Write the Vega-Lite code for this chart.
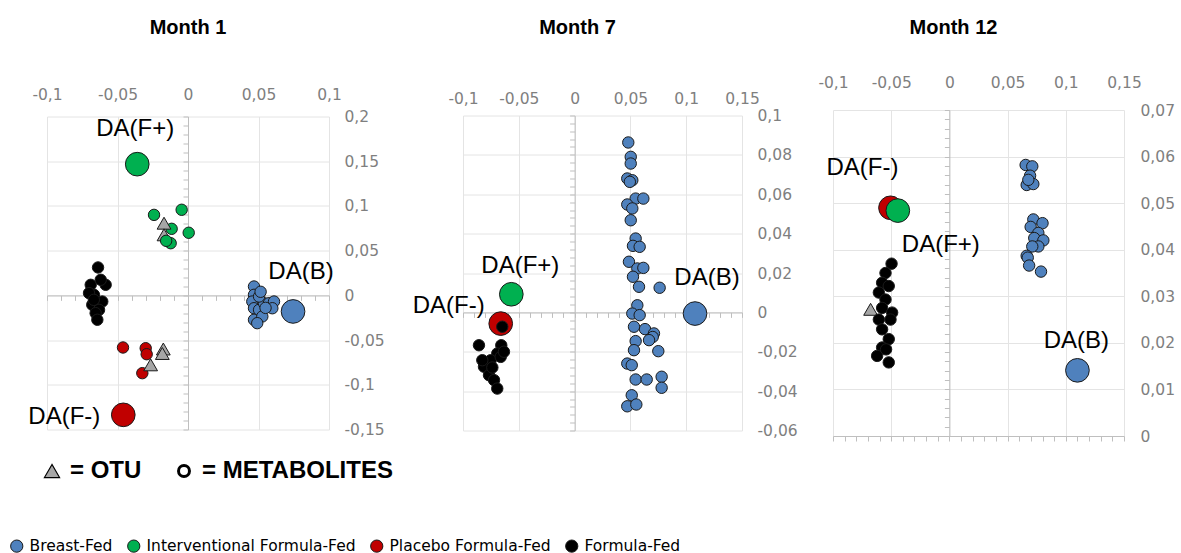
{
  "$schema": "https://vega.github.io/schema/vega-lite/v6.json",
  "background": "white",
  "padding": {"left": 9, "top": 17, "right": 5, "bottom": 0},
  "config": {"view": {"stroke": null}},
  "data": {"values": [
    {"m":1,"g":"Interventional Formula-Fed","t":"Metabolite","x":-0.0241,"y":0.0900},
    {"m":1,"g":"Interventional Formula-Fed","t":"Metabolite","x":-0.0045,"y":0.0957},
    {"m":1,"g":"Interventional Formula-Fed","t":"Metabolite","x":-0.0116,"y":0.0744},
    {"m":1,"g":"Interventional Formula-Fed","t":"Metabolite","x":0.0005,"y":0.0700},
    {"m":1,"g":"Interventional Formula-Fed","t":"OTU","x":-0.0170,"y":0.0807},
    {"m":1,"g":"Interventional Formula-Fed","t":"OTU","x":-0.0170,"y":0.0677},
    {"m":1,"g":"Interventional Formula-Fed","t":"Metabolite","x":-0.0123,"y":0.0583},
    {"m":1,"g":"Interventional Formula-Fed","t":"Metabolite","x":-0.0155,"y":0.0610},
    {"m":1,"g":"Formula-Fed","t":"Metabolite","x":-0.0638,"y":0.0312},
    {"m":1,"g":"Formula-Fed","t":"Metabolite","x":-0.0584,"y":0.0118},
    {"m":1,"g":"Formula-Fed","t":"Metabolite","x":-0.0690,"y":0.0118},
    {"m":1,"g":"Formula-Fed","t":"Metabolite","x":-0.0619,"y":0.0174},
    {"m":1,"g":"Formula-Fed","t":"Metabolite","x":-0.0667,"y":0.0006},
    {"m":1,"g":"Formula-Fed","t":"Metabolite","x":-0.0702,"y":0.0025},
    {"m":1,"g":"Formula-Fed","t":"Metabolite","x":-0.0608,"y":-0.0069},
    {"m":1,"g":"Formula-Fed","t":"Metabolite","x":-0.0679,"y":-0.0106},
    {"m":1,"g":"Formula-Fed","t":"Metabolite","x":-0.0631,"y":-0.0162},
    {"m":1,"g":"Formula-Fed","t":"Metabolite","x":-0.0655,"y":-0.0199},
    {"m":1,"g":"Formula-Fed","t":"Metabolite","x":-0.0643,"y":-0.0273},
    {"m":1,"g":"Formula-Fed","t":"Metabolite","x":-0.0668,"y":-0.0050},
    {"m":1,"g":"Placebo Formula-Fed","t":"Metabolite","x":-0.0461,"y":-0.0583},
    {"m":1,"g":"Placebo Formula-Fed","t":"Metabolite","x":-0.0300,"y":-0.0591},
    {"m":1,"g":"Placebo Formula-Fed","t":"Metabolite","x":-0.0293,"y":-0.0658},
    {"m":1,"g":"Placebo Formula-Fed","t":"Metabolite","x":-0.0324,"y":-0.0870},
    {"m":1,"g":"Placebo Formula-Fed","t":"OTU","x":-0.0175,"y":-0.0600},
    {"m":1,"g":"Placebo Formula-Fed","t":"OTU","x":-0.0182,"y":-0.0650},
    {"m":1,"g":"Placebo Formula-Fed","t":"OTU","x":-0.0265,"y":-0.0777},
    {"m":1,"g":"Breast-Fed","t":"Metabolite","x":0.0468,"y":0.0099},
    {"m":1,"g":"Breast-Fed","t":"Metabolite","x":0.0468,"y":0.0006},
    {"m":1,"g":"Breast-Fed","t":"Metabolite","x":0.0456,"y":-0.0069},
    {"m":1,"g":"Breast-Fed","t":"Metabolite","x":0.0468,"y":-0.0144},
    {"m":1,"g":"Breast-Fed","t":"Metabolite","x":0.0468,"y":-0.0273},
    {"m":1,"g":"Breast-Fed","t":"Metabolite","x":0.0504,"y":-0.0162},
    {"m":1,"g":"Breast-Fed","t":"Metabolite","x":0.0527,"y":-0.0236},
    {"m":1,"g":"Breast-Fed","t":"Metabolite","x":0.0539,"y":-0.0088},
    {"m":1,"g":"Breast-Fed","t":"Metabolite","x":0.0574,"y":-0.0088},
    {"m":1,"g":"Breast-Fed","t":"Metabolite","x":0.0610,"y":-0.0069},
    {"m":1,"g":"Breast-Fed","t":"Metabolite","x":0.0598,"y":-0.0144},
    {"m":1,"g":"Breast-Fed","t":"Metabolite","x":0.0504,"y":-0.0013},
    {"m":1,"g":"Breast-Fed","t":"Metabolite","x":0.0491,"y":-0.0311},
    {"m":1,"g":"Breast-Fed","t":"Metabolite","x":0.0550,"y":-0.0140},
    {"m":1,"g":"Breast-Fed","t":"Metabolite","x":0.0515,"y":0.0040},
    {"m":1,"g":"Interventional Formula-Fed","t":"DA","label":"DA(F+)","x":-0.0360,"y":0.1467},
    {"m":1,"g":"Placebo Formula-Fed","t":"DA","label":"DA(F-)","x":-0.0459,"y":-0.1336},
    {"m":1,"g":"Breast-Fed","t":"DA","label":"DA(B)","x":0.0745,"y":-0.0180},

    {"m":7,"g":"Breast-Fed","t":"Metabolite","x":0.0481,"y":0.0863},
    {"m":7,"g":"Breast-Fed","t":"Metabolite","x":0.0503,"y":0.0790},
    {"m":7,"g":"Breast-Fed","t":"Metabolite","x":0.0503,"y":0.0756},
    {"m":7,"g":"Breast-Fed","t":"Metabolite","x":0.0472,"y":0.0680},
    {"m":7,"g":"Breast-Fed","t":"Metabolite","x":0.0517,"y":0.0671},
    {"m":7,"g":"Breast-Fed","t":"Metabolite","x":0.0495,"y":0.0663},
    {"m":7,"g":"Breast-Fed","t":"Metabolite","x":0.0547,"y":0.0578},
    {"m":7,"g":"Breast-Fed","t":"Metabolite","x":0.0616,"y":0.0578},
    {"m":7,"g":"Breast-Fed","t":"Metabolite","x":0.0472,"y":0.0548},
    {"m":7,"g":"Breast-Fed","t":"Metabolite","x":0.0517,"y":0.0528},
    {"m":7,"g":"Breast-Fed","t":"Metabolite","x":0.0503,"y":0.0468},
    {"m":7,"g":"Breast-Fed","t":"Metabolite","x":0.0547,"y":0.0375},
    {"m":7,"g":"Breast-Fed","t":"Metabolite","x":0.0523,"y":0.0338},
    {"m":7,"g":"Breast-Fed","t":"Metabolite","x":0.0583,"y":0.0333},
    {"m":7,"g":"Breast-Fed","t":"Metabolite","x":0.0487,"y":0.0257},
    {"m":7,"g":"Breast-Fed","t":"Metabolite","x":0.0562,"y":0.0223},
    {"m":7,"g":"Breast-Fed","t":"Metabolite","x":0.0616,"y":0.0226},
    {"m":7,"g":"Breast-Fed","t":"Metabolite","x":0.0523,"y":0.0181},
    {"m":7,"g":"Breast-Fed","t":"Metabolite","x":0.0577,"y":0.0130},
    {"m":7,"g":"Breast-Fed","t":"Metabolite","x":0.0762,"y":0.0125},
    {"m":7,"g":"Breast-Fed","t":"Metabolite","x":0.0562,"y":0.0036},
    {"m":7,"g":"Breast-Fed","t":"Metabolite","x":0.0517,"y":-0.0006},
    {"m":7,"g":"Breast-Fed","t":"Metabolite","x":0.0583,"y":-0.0014},
    {"m":7,"g":"Breast-Fed","t":"Metabolite","x":0.0532,"y":-0.0073},
    {"m":7,"g":"Breast-Fed","t":"Metabolite","x":0.0631,"y":-0.0085},
    {"m":7,"g":"Breast-Fed","t":"Metabolite","x":0.0711,"y":-0.0107},
    {"m":7,"g":"Breast-Fed","t":"Metabolite","x":0.0700,"y":-0.0125},
    {"m":7,"g":"Breast-Fed","t":"Metabolite","x":0.0667,"y":-0.0141},
    {"m":7,"g":"Breast-Fed","t":"Metabolite","x":0.0547,"y":-0.0146},
    {"m":7,"g":"Breast-Fed","t":"Metabolite","x":0.0532,"y":-0.0192},
    {"m":7,"g":"Breast-Fed","t":"Metabolite","x":0.0750,"y":-0.0197},
    {"m":7,"g":"Breast-Fed","t":"Metabolite","x":0.0472,"y":-0.0260},
    {"m":7,"g":"Breast-Fed","t":"Metabolite","x":0.0512,"y":-0.0268},
    {"m":7,"g":"Breast-Fed","t":"Metabolite","x":0.0547,"y":-0.0341},
    {"m":7,"g":"Breast-Fed","t":"Metabolite","x":0.0646,"y":-0.0341},
    {"m":7,"g":"Breast-Fed","t":"Metabolite","x":0.0780,"y":-0.0327},
    {"m":7,"g":"Breast-Fed","t":"Metabolite","x":0.0780,"y":-0.0383},
    {"m":7,"g":"Breast-Fed","t":"Metabolite","x":0.0512,"y":-0.0421},
    {"m":7,"g":"Breast-Fed","t":"Metabolite","x":0.0472,"y":-0.0477},
    {"m":7,"g":"Breast-Fed","t":"Metabolite","x":0.0553,"y":-0.0468},
    {"m":7,"g":"Formula-Fed","t":"Metabolite","x":-0.0857,"y":-0.0167},
    {"m":7,"g":"Formula-Fed","t":"Metabolite","x":-0.0657,"y":-0.0167},
    {"m":7,"g":"Formula-Fed","t":"Metabolite","x":-0.0693,"y":-0.0209},
    {"m":7,"g":"Formula-Fed","t":"Metabolite","x":-0.0752,"y":-0.0243},
    {"m":7,"g":"Formula-Fed","t":"Metabolite","x":-0.0812,"y":-0.0276},
    {"m":7,"g":"Formula-Fed","t":"Metabolite","x":-0.0662,"y":-0.0226},
    {"m":7,"g":"Formula-Fed","t":"Metabolite","x":-0.0767,"y":-0.0319},
    {"m":7,"g":"Formula-Fed","t":"Metabolite","x":-0.0722,"y":-0.0344},
    {"m":7,"g":"Formula-Fed","t":"Metabolite","x":-0.0693,"y":-0.0387},
    {"m":7,"g":"Formula-Fed","t":"Metabolite","x":-0.0827,"y":-0.0243},
    {"m":7,"g":"Formula-Fed","t":"Metabolite","x":-0.0633,"y":-0.0200},
    {"m":7,"g":"Formula-Fed","t":"Metabolite","x":-0.0737,"y":-0.0280},
    {"m":7,"g":"Interventional Formula-Fed","t":"DA","label":"DA(F+)","x":-0.0567,"y":0.0092},
    {"m":7,"g":"Placebo Formula-Fed","t":"DA","label":"DA(F-)","x":-0.0662,"y":-0.0057},
    {"m":7,"g":"Breast-Fed","t":"DA","label":"DA(B)","x":0.1079,"y":-0.0006},
    {"m":7,"g":"Formula-Fed","t":"Metabolite","x":-0.0648,"y":-0.0073},

    {"m":12,"g":"Formula-Fed","t":"OTU","x":-0.0677,"y":0.0272},
    {"m":12,"g":"Formula-Fed","t":"Metabolite","x":-0.0497,"y":0.0370},
    {"m":12,"g":"Formula-Fed","t":"Metabolite","x":-0.0549,"y":0.0350},
    {"m":12,"g":"Formula-Fed","t":"Metabolite","x":-0.0578,"y":0.0329},
    {"m":12,"g":"Formula-Fed","t":"Metabolite","x":-0.0521,"y":0.0322},
    {"m":12,"g":"Formula-Fed","t":"Metabolite","x":-0.0606,"y":0.0308},
    {"m":12,"g":"Formula-Fed","t":"Metabolite","x":-0.0549,"y":0.0293},
    {"m":12,"g":"Formula-Fed","t":"Metabolite","x":-0.0578,"y":0.0275},
    {"m":12,"g":"Formula-Fed","t":"Metabolite","x":-0.0492,"y":0.0265},
    {"m":12,"g":"Formula-Fed","t":"Metabolite","x":-0.0606,"y":0.0250},
    {"m":12,"g":"Formula-Fed","t":"Metabolite","x":-0.0506,"y":0.0250},
    {"m":12,"g":"Formula-Fed","t":"Metabolite","x":-0.0578,"y":0.0229},
    {"m":12,"g":"Formula-Fed","t":"Metabolite","x":-0.0521,"y":0.0208},
    {"m":12,"g":"Formula-Fed","t":"Metabolite","x":-0.0578,"y":0.0190},
    {"m":12,"g":"Formula-Fed","t":"Metabolite","x":-0.0621,"y":0.0172},
    {"m":12,"g":"Formula-Fed","t":"Metabolite","x":-0.0521,"y":0.0158},
    {"m":12,"g":"Formula-Fed","t":"Metabolite","x":-0.0544,"y":0.0186},
    {"m":12,"g":"Breast-Fed","t":"Metabolite","x":0.0655,"y":0.0582},
    {"m":12,"g":"Breast-Fed","t":"Metabolite","x":0.0712,"y":0.0579},
    {"m":12,"g":"Breast-Fed","t":"Metabolite","x":0.0693,"y":0.0559},
    {"m":12,"g":"Breast-Fed","t":"Metabolite","x":0.0664,"y":0.0539},
    {"m":12,"g":"Breast-Fed","t":"Metabolite","x":0.0721,"y":0.0541},
    {"m":12,"g":"Breast-Fed","t":"Metabolite","x":0.0678,"y":0.0550},
    {"m":12,"g":"Breast-Fed","t":"Metabolite","x":0.0721,"y":0.0465},
    {"m":12,"g":"Breast-Fed","t":"Metabolite","x":0.0800,"y":0.0457},
    {"m":12,"g":"Breast-Fed","t":"Metabolite","x":0.0698,"y":0.0449},
    {"m":12,"g":"Breast-Fed","t":"Metabolite","x":0.0764,"y":0.0436},
    {"m":12,"g":"Breast-Fed","t":"Metabolite","x":0.0729,"y":0.0425},
    {"m":12,"g":"Breast-Fed","t":"Metabolite","x":0.0807,"y":0.0420},
    {"m":12,"g":"Breast-Fed","t":"Metabolite","x":0.0764,"y":0.0407},
    {"m":12,"g":"Breast-Fed","t":"Metabolite","x":0.0712,"y":0.0407},
    {"m":12,"g":"Breast-Fed","t":"Metabolite","x":0.0664,"y":0.0387},
    {"m":12,"g":"Breast-Fed","t":"Metabolite","x":0.0673,"y":0.0383},
    {"m":12,"g":"Breast-Fed","t":"Metabolite","x":0.0685,"y":0.0366},
    {"m":12,"g":"Breast-Fed","t":"Metabolite","x":0.0787,"y":0.0353},
    {"m":12,"g":"Placebo Formula-Fed","t":"DA","label":"DA(F-)","x":-0.0506,"y":0.0490},
    {"m":12,"g":"Interventional Formula-Fed","t":"DA","label":"DA(F+)","x":-0.0443,"y":0.0484},
    {"m":12,"g":"Breast-Fed","t":"DA","label":"DA(B)","x":0.1100,"y":0.0141}
  ]},
  "bounds": "flush",
  "center": true,
  "spacing": 0,
  "hconcat": [
    {
      "width": 282, "height": 313,
      "title": {"text": "Month 1", "font": "Liberation Sans", "fontSize": 20, "fontWeight": "bold", "color": "#000000", "frame": "group", "offset": 50, "dx": 0},
      "transform": [{"filter": "datum.m === 1"}],
      "resolve": {"axis": {"x": "independent", "y": "independent"}},
      "layer": [
        {
          "mark": {"type": "point", "filled": true, "opacity": 1, "stroke": "#1a1a1a", "strokeWidth": 1},
          "encoding": {
            "x": {"field": "x", "type": "quantitative", "scale": {"domain": [-0.1, 0.1], "nice": false, "zero": false},
                  "axis": {"orient": "top", "title": null, "values": [-0.1, -0.05, 0, 0.05, 0.1], "grid": true, "gridColor": "#e4e4e4", "domain": false, "ticks": false, "labelPadding": 14, "labelFont": "DejaVu Sans", "labelFontSize": 15.5, "labelColor": "#7f7f7f", "labelFlush": false, "labelOverlap": false, "labelExpr": "replace(toString(datum.value), '.', ',')"}},
            "y": {"field": "y", "type": "quantitative", "scale": {"domain": [-0.15, 0.2], "nice": false, "zero": false},
                  "axis": {"orient": "right", "title": null, "values": [-0.15, -0.1, -0.05, 0, 0.05, 0.1, 0.15, 0.2], "grid": true, "gridColor": "#e4e4e4", "domain": false, "ticks": false, "labelPadding": 15, "labelAlign": "left", "labelFont": "DejaVu Sans", "labelFontSize": 15.5, "labelColor": "#7f7f7f", "labelFlush": false, "labelOverlap": false, "labelExpr": "replace(toString(datum.value), '.', ',')"}},
            "color": {"condition": {"test": "datum.t === 'OTU'", "value": "#a6a6a6"}, "field": "g", "type": "nominal",
                      "scale": {"domain": ["Breast-Fed", "Interventional Formula-Fed", "Placebo Formula-Fed", "Formula-Fed"], "range": ["#4f81bd", "#00b050", "#c00000", "#000000"]},
                      "legend": {"title": null, "orient": "none", "legendX": -38, "legendY": 428, "direction": "horizontal", "symbolType": "circle", "symbolSize": 150, "symbolStrokeColor": "#1a1a1a", "symbolStrokeWidth": 1, "labelFont": "DejaVu Sans", "labelFontSize": 15.5, "labelColor": "#000000", "labelOffset": 5, "columnPadding": 12, "padding": 0, "labelLimit": 400,
                                 "encoding": {"symbols": {"fill": {"value": {"expr": "datum.value === 'Breast-Fed' ? '#4472c4' : datum.value === 'Interventional Formula-Fed' ? '#1e9c3c' : datum.value === 'Placebo Formula-Fed' ? '#ff0000' : '#000000'"}}, "stroke": {"value": "#1a1a1a"}, "strokeWidth": {"value": 1}}}}},
            "shape": {"field": "t", "type": "nominal", "scale": {"domain": ["OTU", "Metabolite", "DA"], "range": ["triangle-up", "circle", "circle"]},
                      "legend": {"title": null, "orient": "none", "legendX": -7, "legendY": 349, "direction": "horizontal", "values": ["OTU", "Metabolite"], "labelExpr": "datum.value === 'OTU' ? '= OTU' : '= METABOLITES'", "labelFont": "Liberation Sans", "labelFontSize": 24, "labelFontWeight": "bold", "labelColor": "#000000", "symbolSize": 210, "symbolStrokeColor": "#000000", "labelOffset": 6, "columnPadding": 30, "padding": 0, "labelLimit": 400,
                                 "encoding": {"symbols": {"fill": {"value": {"expr": "datum.value === 'OTU' ? '#a6a6a6' : '#ffffff'"}}, "stroke": {"value": "#000000"}, "strokeWidth": {"value": {"expr": "datum.value === 'OTU' ? 1.2 : 3"}}, "size": {"value": {"expr": "datum.value === 'OTU' ? 230 : 120"}}}}}},
            "size": {"field": "t", "type": "nominal", "scale": {"type": "ordinal", "domain": ["DA", "Metabolite", "OTU"], "range": [560, 130, 190]}, "legend": null}
          }
        },
        {
          "transform": [{"filter": "datum.label === 'DA(F+)'"}],
          "mark": {"type": "text", "font": "Liberation Sans", "fontSize": 24, "color": "#000000", "align": "center", "baseline": "middle", "dx": -2, "dy": -35},
          "encoding": {
            "x": {"field": "x", "type": "quantitative", "axis": {"orient": "bottom", "offset": -134.14, "title": null, "labels": false, "grid": false, "domain": true, "domainColor": "#bfbfbf", "ticks": true, "tickColor": "#bfbfbf", "tickSize": 5, "values": [-0.1,-0.09,-0.08,-0.07,-0.06,-0.05,-0.04,-0.03,-0.02,-0.01,0,0.01,0.02,0.03,0.04,0.05,0.06,0.07,0.08,0.09,0.1]}},
            "y": {"field": "y", "type": "quantitative", "axis": {"orient": "left", "offset": -141, "title": null, "labels": false, "grid": false, "domain": true, "domainColor": "#bfbfbf", "ticks": true, "tickColor": "#bfbfbf", "tickSize": 5, "values": [-0.15,-0.14,-0.13,-0.12,-0.11,-0.1,-0.09,-0.08,-0.07,-0.06,-0.05,-0.04,-0.03,-0.02,-0.01,0,0.01,0.02,0.03,0.04,0.05,0.06,0.07,0.08,0.09,0.1,0.11,0.12,0.13,0.14,0.15,0.16,0.17,0.18,0.19,0.2]}},
            "text": {"field": "label"}
          }
        },
        {
          "transform": [{"filter": "datum.label === 'DA(F-)'"}],
          "mark": {"type": "text", "font": "Liberation Sans", "fontSize": 24, "color": "#000000", "align": "center", "baseline": "middle", "dx": -59, "dy": 2},
          "encoding": {"x": {"field": "x", "type": "quantitative", "axis": null}, "y": {"field": "y", "type": "quantitative", "axis": null}, "text": {"field": "label"}}
        },
        {
          "transform": [{"filter": "datum.label === 'DA(B)'"}],
          "mark": {"type": "text", "font": "Liberation Sans", "fontSize": 24, "color": "#000000", "align": "center", "baseline": "middle", "dx": 8, "dy": -39},
          "encoding": {"x": {"field": "x", "type": "quantitative", "axis": null}, "y": {"field": "y", "type": "quantitative", "axis": null}, "text": {"field": "label"}}
        }
      ]
    },
    {
      "width": 134, "height": 10,
      "data": {"values": []},
      "mark": {"type": "point", "opacity": 0},
      "encoding": {}
    },
    {
      "width": 279, "height": 315,
      "title": {"text": "Month 7", "font": "Liberation Sans", "fontSize": 20, "fontWeight": "bold", "color": "#000000", "frame": "group", "offset": 54, "dx": -25},
      "transform": [{"filter": "datum.m === 7"}],
      "resolve": {"axis": {"x": "independent", "y": "independent"}},
      "layer": [
        {
          "mark": {"type": "point", "filled": true, "opacity": 1, "stroke": "#1a1a1a", "strokeWidth": 1},
          "encoding": {
            "x": {"field": "x", "type": "quantitative", "scale": {"domain": [-0.1, 0.15], "nice": false, "zero": false},
                  "axis": {"orient": "top", "title": null, "values": [-0.1, -0.05, 0, 0.05, 0.1, 0.15], "grid": true, "gridColor": "#e4e4e4", "domain": false, "ticks": false, "labelPadding": 9, "labelFont": "DejaVu Sans", "labelFontSize": 15.5, "labelColor": "#7f7f7f", "labelFlush": false, "labelOverlap": false, "labelExpr": "replace(toString(datum.value), '.', ',')"}},
            "y": {"field": "y", "type": "quantitative", "scale": {"domain": [-0.06, 0.1], "nice": false, "zero": false},
                  "axis": {"orient": "right", "title": null, "values": [-0.06, -0.04, -0.02, 0, 0.02, 0.04, 0.06, 0.08, 0.1], "grid": true, "gridColor": "#e4e4e4", "domain": false, "ticks": false, "labelPadding": 15, "labelAlign": "left", "labelFont": "DejaVu Sans", "labelFontSize": 15.5, "labelColor": "#7f7f7f", "labelFlush": false, "labelOverlap": false, "labelExpr": "replace(toString(datum.value), '.', ',')"}},
            "color": {"condition": {"test": "datum.t === 'OTU'", "value": "#a6a6a6"}, "field": "g", "type": "nominal",
                      "scale": {"domain": ["Breast-Fed", "Interventional Formula-Fed", "Placebo Formula-Fed", "Formula-Fed"], "range": ["#4f81bd", "#00b050", "#c00000", "#000000"]},
                      "legend": {"title": null, "orient": "none", "legendX": -38, "legendY": 428, "direction": "horizontal", "symbolType": "circle", "symbolSize": 150, "symbolStrokeColor": "#1a1a1a", "symbolStrokeWidth": 1, "labelFont": "DejaVu Sans", "labelFontSize": 15.5, "labelColor": "#000000", "labelOffset": 5, "columnPadding": 12, "padding": 0, "labelLimit": 400,
                                 "encoding": {"symbols": {"fill": {"value": {"expr": "datum.value === 'Breast-Fed' ? '#4472c4' : datum.value === 'Interventional Formula-Fed' ? '#1e9c3c' : datum.value === 'Placebo Formula-Fed' ? '#ff0000' : '#000000'"}}, "stroke": {"value": "#1a1a1a"}, "strokeWidth": {"value": 1}}}}},
            "shape": {"field": "t", "type": "nominal", "scale": {"domain": ["OTU", "Metabolite", "DA"], "range": ["triangle-up", "circle", "circle"]},
                      "legend": {"title": null, "orient": "none", "legendX": -7, "legendY": 349, "direction": "horizontal", "values": ["OTU", "Metabolite"], "labelExpr": "datum.value === 'OTU' ? '= OTU' : '= METABOLITES'", "labelFont": "Liberation Sans", "labelFontSize": 24, "labelFontWeight": "bold", "labelColor": "#000000", "symbolSize": 210, "symbolStrokeColor": "#000000", "labelOffset": 6, "columnPadding": 30, "padding": 0, "labelLimit": 400,
                                 "encoding": {"symbols": {"fill": {"value": {"expr": "datum.value === 'OTU' ? '#a6a6a6' : '#ffffff'"}}, "stroke": {"value": "#000000"}, "strokeWidth": {"value": {"expr": "datum.value === 'OTU' ? 1.2 : 3"}}, "size": {"value": {"expr": "datum.value === 'OTU' ? 230 : 120"}}}}}},
            "size": {"field": "t", "type": "nominal", "scale": {"type": "ordinal", "domain": ["DA", "Metabolite", "OTU"], "range": [560, 130, 190]}, "legend": null}
          }
        },
        {
          "transform": [{"filter": "datum.label === 'DA(F+)'"}],
          "mark": {"type": "text", "font": "Liberation Sans", "fontSize": 24, "color": "#000000", "align": "center", "baseline": "middle", "dx": 9, "dy": -28},
          "encoding": {
            "x": {"field": "x", "type": "quantitative", "axis": {"orient": "bottom", "offset": -118.125, "title": null, "labels": false, "grid": false, "domain": true, "domainColor": "#bfbfbf", "ticks": true, "tickColor": "#bfbfbf", "tickSize": 5, "values": [-0.1,-0.09,-0.08,-0.07,-0.06,-0.05,-0.04,-0.03,-0.02,-0.01,0,0.01,0.02,0.03,0.04,0.05,0.06,0.07,0.08,0.09,0.1,0.11,0.12,0.13,0.14,0.15]}},
            "y": {"field": "y", "type": "quantitative", "axis": {"orient": "left", "offset": -111.6, "title": null, "labels": false, "grid": false, "domain": true, "domainColor": "#bfbfbf", "ticks": true, "tickColor": "#bfbfbf", "tickSize": 5, "values": [-0.06,-0.056,-0.052,-0.048,-0.044,-0.04,-0.036,-0.032,-0.028,-0.024,-0.02,-0.016,-0.012,-0.008,-0.004,0,0.004,0.008,0.012,0.016,0.02,0.024,0.028,0.032,0.036,0.04,0.044,0.048,0.052,0.056,0.06,0.064,0.068,0.072,0.076,0.08,0.084,0.088,0.092,0.096,0.1]}},
            "text": {"field": "label"}
          }
        },
        {
          "transform": [{"filter": "datum.label === 'DA(F-)'"}],
          "mark": {"type": "text", "font": "Liberation Sans", "fontSize": 24, "color": "#000000", "align": "center", "baseline": "middle", "dx": -52, "dy": -18},
          "encoding": {"x": {"field": "x", "type": "quantitative", "axis": null}, "y": {"field": "y", "type": "quantitative", "axis": null}, "text": {"field": "label"}}
        },
        {
          "transform": [{"filter": "datum.label === 'DA(B)'"}],
          "mark": {"type": "text", "font": "Liberation Sans", "fontSize": 24, "color": "#000000", "align": "center", "baseline": "middle", "dx": 12, "dy": -36},
          "encoding": {"x": {"field": "x", "type": "quantitative", "axis": null}, "y": {"field": "y", "type": "quantitative", "axis": null}, "text": {"field": "label"}}
        }
      ]
    },
    {
      "width": 91, "height": 10,
      "data": {"values": []},
      "mark": {"type": "point", "opacity": 0},
      "encoding": {}
    },
    {
      "width": 291, "height": 326,
      "title": {"text": "Month 12", "font": "Liberation Sans", "fontSize": 20, "fontWeight": "bold", "color": "#000000", "frame": "group", "offset": 37, "dx": -25},
      "transform": [{"filter": "datum.m === 12"}],
      "resolve": {"axis": {"x": "independent", "y": "independent"}},
      "layer": [
        {
          "mark": {"type": "point", "filled": true, "opacity": 1, "stroke": "#1a1a1a", "strokeWidth": 1},
          "encoding": {
            "x": {"field": "x", "type": "quantitative", "scale": {"domain": [-0.1, 0.15], "nice": false, "zero": false},
                  "axis": {"orient": "top", "title": null, "values": [-0.1, -0.05, 0, 0.05, 0.1, 0.15], "grid": true, "gridColor": "#e4e4e4", "domain": false, "ticks": false, "labelPadding": 20, "labelFont": "DejaVu Sans", "labelFontSize": 15.5, "labelColor": "#7f7f7f", "labelFlush": false, "labelOverlap": false, "labelExpr": "replace(toString(datum.value), '.', ',')"}},
            "y": {"field": "y", "type": "quantitative", "scale": {"domain": [0, 0.07], "nice": false, "zero": false},
                  "axis": {"orient": "right", "title": null, "values": [0, 0.01, 0.02, 0.03, 0.04, 0.05, 0.06, 0.07], "grid": true, "gridColor": "#e4e4e4", "domain": false, "ticks": false, "labelPadding": 16, "labelAlign": "left", "labelFont": "DejaVu Sans", "labelFontSize": 15.5, "labelColor": "#7f7f7f", "labelFlush": false, "labelOverlap": false, "labelExpr": "replace(toString(datum.value), '.', ',')"}},
            "color": {"condition": {"test": "datum.t === 'OTU'", "value": "#a6a6a6"}, "field": "g", "type": "nominal",
                      "scale": {"domain": ["Breast-Fed", "Interventional Formula-Fed", "Placebo Formula-Fed", "Formula-Fed"], "range": ["#4f81bd", "#00b050", "#c00000", "#000000"]},
                      "legend": {"title": null, "orient": "none", "legendX": -38, "legendY": 428, "direction": "horizontal", "symbolType": "circle", "symbolSize": 150, "symbolStrokeColor": "#1a1a1a", "symbolStrokeWidth": 1, "labelFont": "DejaVu Sans", "labelFontSize": 15.5, "labelColor": "#000000", "labelOffset": 5, "columnPadding": 12, "padding": 0, "labelLimit": 400,
                                 "encoding": {"symbols": {"fill": {"value": {"expr": "datum.value === 'Breast-Fed' ? '#4472c4' : datum.value === 'Interventional Formula-Fed' ? '#1e9c3c' : datum.value === 'Placebo Formula-Fed' ? '#ff0000' : '#000000'"}}, "stroke": {"value": "#1a1a1a"}, "strokeWidth": {"value": 1}}}}},
            "shape": {"field": "t", "type": "nominal", "scale": {"domain": ["OTU", "Metabolite", "DA"], "range": ["triangle-up", "circle", "circle"]},
                      "legend": {"title": null, "orient": "none", "legendX": -7, "legendY": 349, "direction": "horizontal", "values": ["OTU", "Metabolite"], "labelExpr": "datum.value === 'OTU' ? '= OTU' : '= METABOLITES'", "labelFont": "Liberation Sans", "labelFontSize": 24, "labelFontWeight": "bold", "labelColor": "#000000", "symbolSize": 210, "symbolStrokeColor": "#000000", "labelOffset": 6, "columnPadding": 30, "padding": 0, "labelLimit": 400,
                                 "encoding": {"symbols": {"fill": {"value": {"expr": "datum.value === 'OTU' ? '#a6a6a6' : '#ffffff'"}}, "stroke": {"value": "#000000"}, "strokeWidth": {"value": {"expr": "datum.value === 'OTU' ? 1.2 : 3"}}, "size": {"value": {"expr": "datum.value === 'OTU' ? 230 : 120"}}}}}},
            "size": {"field": "t", "type": "nominal", "scale": {"type": "ordinal", "domain": ["DA", "Metabolite", "OTU"], "range": [560, 130, 190]}, "legend": null}
          }
        },
        {
          "transform": [{"filter": "datum.label === 'DA(F+)'"}],
          "mark": {"type": "text", "font": "Liberation Sans", "fontSize": 24, "color": "#000000", "align": "center", "baseline": "middle", "dx": 43, "dy": 34},
          "encoding": {
            "x": {"field": "x", "type": "quantitative", "axis": {"orient": "bottom", "offset": 0, "title": null, "labels": false, "grid": false, "domain": true, "domainColor": "#bfbfbf", "ticks": true, "tickColor": "#bfbfbf", "tickSize": 5, "values": [-0.1,-0.09,-0.08,-0.07,-0.06,-0.05,-0.04,-0.03,-0.02,-0.01,0,0.01,0.02,0.03,0.04,0.05,0.06,0.07,0.08,0.09,0.1,0.11,0.12,0.13,0.14,0.15]}},
            "y": {"field": "y", "type": "quantitative", "axis": {"orient": "left", "offset": -116.4, "title": null, "labels": false, "grid": false, "domain": true, "domainColor": "#bfbfbf", "ticks": true, "tickColor": "#bfbfbf", "tickSize": 5, "values": [0,0.002,0.004,0.006,0.008,0.01,0.012,0.014,0.016,0.018,0.02,0.022,0.024,0.026,0.028,0.03,0.032,0.034,0.036,0.038,0.04,0.042,0.044,0.046,0.048,0.05,0.052,0.054,0.056,0.058,0.06,0.062,0.064,0.066,0.068,0.07]}},
            "text": {"field": "label"}
          }
        },
        {
          "transform": [{"filter": "datum.label === 'DA(F-)'"}],
          "mark": {"type": "text", "font": "Liberation Sans", "fontSize": 24, "color": "#000000", "align": "center", "baseline": "middle", "dx": -28, "dy": -40},
          "encoding": {"x": {"field": "x", "type": "quantitative", "axis": null}, "y": {"field": "y", "type": "quantitative", "axis": null}, "text": {"field": "label"}}
        },
        {
          "transform": [{"filter": "datum.label === 'DA(B)'"}],
          "mark": {"type": "text", "font": "Liberation Sans", "fontSize": 24, "color": "#000000", "align": "center", "baseline": "middle", "dx": -1, "dy": -29},
          "encoding": {"x": {"field": "x", "type": "quantitative", "axis": null}, "y": {"field": "y", "type": "quantitative", "axis": null}, "text": {"field": "label"}}
        }
      ]
    }
  ]
}
